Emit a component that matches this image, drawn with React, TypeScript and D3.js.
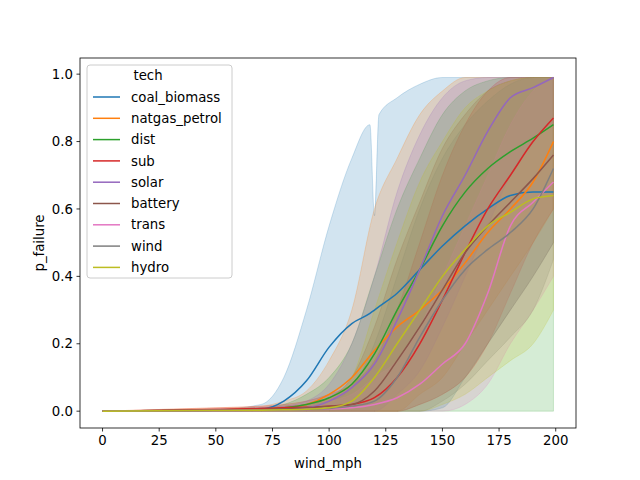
import React from "react";
import * as d3 from "d3";

const xs = [0, 25, 50, 70, 80, 90, 100, 110, 120, 130, 140, 150, 160, 170, 180, 190, 199];
const coalXs = [0, 25, 50, 70, 80, 90, 100, 110, 118, 120, 122, 130, 140, 150, 160, 170, 180, 190, 199];

const coalMean = [0, 0.002, 0.003, 0.006, 0.03, 0.09, 0.19, 0.26, 0.29, 0.3, 0.31, 0.35, 0.42, 0.49, 0.55, 0.6, 0.64, 0.65, 0.65];
const coalHi = [0, 0.003, 0.005, 0.02, 0.1, 0.3, 0.55, 0.75, 0.85, 0.58, 0.88, 0.93, 0.97, 0.99, 0.99, 0.99, 0.99, 0.99, 0.99];
const coalLo = [0, 0, 0, 0, 0, 0, 0, 0, 0, 0, 0, 0, 0, 0.01, 0.1, 0.2, 0.3, 0.4, 0.5];

const natgasMean = [0, 0.002, 0.004, 0.007, 0.01, 0.02, 0.05, 0.1, 0.18, 0.25, 0.3, 0.36, 0.44, 0.53, 0.6, 0.68, 0.8];
const natgasHi = [0, 0.005, 0.01, 0.015, 0.03, 0.06, 0.15, 0.3, 0.6, 0.75, 0.88, 0.95, 0.99, 0.99, 0.99, 0.99, 0.99];
const natgasLo = [0, 0, 0, 0, 0, 0, 0, 0, 0, 0, 0.05, 0.1, 0.2, 0.3, 0.4, 0.5, 0.6];

const distMean = [0, 0.001, 0.003, 0.005, 0.01, 0.02, 0.04, 0.08, 0.17, 0.3, 0.42, 0.55, 0.65, 0.72, 0.77, 0.81, 0.85];
const distHi = [0, 0.003, 0.006, 0.01, 0.02, 0.05, 0.1, 0.2, 0.4, 0.6, 0.75, 0.88, 0.95, 0.98, 0.99, 0.99, 0.99];
const distLo = [0, 0, 0, 0, 0, 0, 0, 0, 0, 0, 0, 0, 0, 0, 0, 0, 0];

const subMean = [0, 0.002, 0.005, 0.008, 0.01, 0.012, 0.015, 0.02, 0.04, 0.1, 0.2, 0.33, 0.47, 0.6, 0.7, 0.8, 0.87];
const subHi = [0, 0.005, 0.01, 0.015, 0.02, 0.03, 0.05, 0.08, 0.15, 0.3, 0.5, 0.7, 0.85, 0.95, 0.99, 0.99, 0.99];
const subLo = [0, 0, 0, 0, 0, 0, 0, 0, 0, 0, 0.02, 0.05, 0.1, 0.2, 0.35, 0.5, 0.6];

const solarMean = [0, 0.001, 0.002, 0.004, 0.006, 0.01, 0.03, 0.07, 0.14, 0.27, 0.42, 0.58, 0.7, 0.83, 0.93, 0.96, 0.99];
const solarHi = [0, 0.002, 0.005, 0.01, 0.015, 0.03, 0.08, 0.2, 0.4, 0.65, 0.82, 0.93, 0.98, 0.99, 0.99, 0.99, 0.99];
const solarLo = [0, 0, 0, 0, 0, 0, 0, 0, 0, 0.05, 0.12, 0.25, 0.4, 0.55, 0.7, 0.8, 0.85];

const batteryMean = [0, 0.001, 0.003, 0.005, 0.007, 0.01, 0.015, 0.02, 0.06, 0.15, 0.25, 0.36, 0.47, 0.55, 0.62, 0.69, 0.76];
const batteryHi = [0, 0.003, 0.006, 0.01, 0.015, 0.02, 0.04, 0.1, 0.25, 0.45, 0.62, 0.78, 0.88, 0.95, 0.98, 0.99, 0.99];
const batteryLo = [0, 0, 0, 0, 0, 0, 0, 0, 0, 0, 0.02, 0.05, 0.1, 0.2, 0.3, 0.4, 0.5];

const transMean = [0, 0.001, 0.002, 0.003, 0.004, 0.005, 0.007, 0.01, 0.02, 0.04, 0.08, 0.14, 0.2, 0.35, 0.55, 0.62, 0.68];
const transHi = [0, 0.003, 0.006, 0.01, 0.015, 0.02, 0.03, 0.05, 0.1, 0.15, 0.25, 0.4, 0.55, 0.7, 0.85, 0.95, 0.99];
const transLo = [0, 0, 0, 0, 0, 0, 0, 0, 0, 0, 0, 0, 0.02, 0.08, 0.2, 0.3, 0.4];

const windMean = [0, 0.001, 0.002, 0.003, 0.004, 0.005, 0.008, 0.015, 0.03, 0.1, 0.22, 0.33, 0.42, 0.48, 0.53, 0.6, 0.72];
const windHi = [0, 0.002, 0.004, 0.006, 0.01, 0.02, 0.03, 0.07, 0.2, 0.4, 0.6, 0.75, 0.85, 0.92, 0.97, 0.99, 0.99];
const windLo = [0, 0, 0, 0, 0, 0, 0, 0, 0, 0, 0, 0.03, 0.08, 0.15, 0.22, 0.3, 0.45];

const hydroMean = [0, 0.001, 0.002, 0.003, 0.004, 0.006, 0.01, 0.03, 0.1, 0.2, 0.3, 0.4, 0.48, 0.55, 0.59, 0.63, 0.64];
const hydroHi = [0, 0.002, 0.004, 0.006, 0.01, 0.02, 0.04, 0.1, 0.3, 0.5, 0.68, 0.8, 0.9, 0.95, 0.98, 0.99, 0.99];
const hydroLo = [0, 0, 0, 0, 0, 0, 0, 0, 0, 0, 0, 0.02, 0.05, 0.1, 0.15, 0.2, 0.3];

const techs = ["coal_biomass", "natgas_petrol", "dist", "sub", "solar", "battery", "trans", "wind", "hydro"];
const colors = ["#1f77b4", "#ff7f0e", "#2ca02c", "#d62728", "#9467bd", "#8c564b", "#e377c2", "#7f7f7f", "#bcbd22"];

const series = [
  { x: coalXs, mean: coalMean, lo: coalLo, hi: coalHi },
  { x: xs, mean: natgasMean, lo: natgasLo, hi: natgasHi },
  { x: xs, mean: distMean, lo: distLo, hi: distHi },
  { x: xs, mean: subMean, lo: subLo, hi: subHi },
  { x: xs, mean: solarMean, lo: solarLo, hi: solarHi },
  { x: xs, mean: batteryMean, lo: batteryLo, hi: batteryHi },
  { x: xs, mean: transMean, lo: transLo, hi: transHi },
  { x: xs, mean: windMean, lo: windLo, hi: windHi },
  { x: xs, mean: hydroMean, lo: hydroLo, hi: hydroHi },
];

const xTicks = [0, 25, 50, 75, 100, 125, 150, 175, 200];
const yTicks = [0, 0.2, 0.4, 0.6, 0.8, 1.0];

export default function App() {
  const left = 80, right = 576, top = 58, bottom = 428;
  const x = d3.scaleLinear().domain([-9.95, 208.95]).range([left, right]);
  const y = d3.scaleLinear().domain([-0.0499, 1.0479]).range([bottom, top]);
  const font = "DejaVu Sans, sans-serif";

  return (
    <svg width={640} height={480} style={{ position: "absolute", left: 0, top: 0 }} fontFamily={font}>
      <rect width={640} height={480} fill="#fff" />
      {series.map((s, i) => {
        const area = d3.area<number>()
          .x((_, j) => x(s.x[j]))
          .y0((_, j) => y(s.lo[j]))
          .y1((_, j) => y(s.hi[j]))
          .curve(d3.curveMonotoneX);
        return <path key={"a" + i} d={area(s.mean) || ""} fill={colors[i]} fillOpacity={0.2} stroke={colors[i]} strokeOpacity={0.2} />;
      })}
      {series.map((s, i) => {
        const line = d3.line<number>()
          .x((_, j) => x(s.x[j]))
          .y((d) => y(d))
          .curve(d3.curveMonotoneX);
        return <path key={"l" + i} d={line(s.mean) || ""} fill="none" stroke={colors[i]} strokeWidth={1.5} />;
      })}
      <rect x={left} y={top} width={right - left} height={bottom - top} fill="none" stroke="#000" strokeWidth={0.8} />
      {xTicks.map((t) => (
        <g key={"x" + t} transform={`translate(${x(t)},${bottom})`}>
          <line y2={3.5} stroke="#000" strokeWidth={0.8} />
          <text y={17} textAnchor="middle" fontSize={13.3}>{t}</text>
        </g>
      ))}
      {yTicks.map((t) => (
        <g key={"y" + t} transform={`translate(${left},${y(t)})`}>
          <line x2={-3.5} stroke="#000" strokeWidth={0.8} />
          <text x={-7} dy="0.35em" textAnchor="end" fontSize={13.3}>{t.toFixed(1)}</text>
        </g>
      ))}
      <text x={(left + right) / 2} y={468} textAnchor="middle" fontSize={13.3}>wind_mph</text>
      <text transform={`translate(44,${(top + bottom) / 2}) rotate(-90)`} textAnchor="middle" fontSize={13.3}>p_failure</text>
      <rect x={87} y={65} width={145} height={213} rx={3} fill="#fff" fillOpacity={0.8} stroke="#ccc" />
      <text x={148} y={80} textAnchor="middle" fontSize={13.3}>tech</text>
      {techs.map((t, i) => (
        <g key={t} transform={`translate(93,${97 + i * 21.3})`}>
          <line x2={27} stroke={colors[i]} strokeWidth={1.5} />
          <text x={38} dy="0.35em" fontSize={13.3}>{t}</text>
        </g>
      ))}
    </svg>
  );
}
